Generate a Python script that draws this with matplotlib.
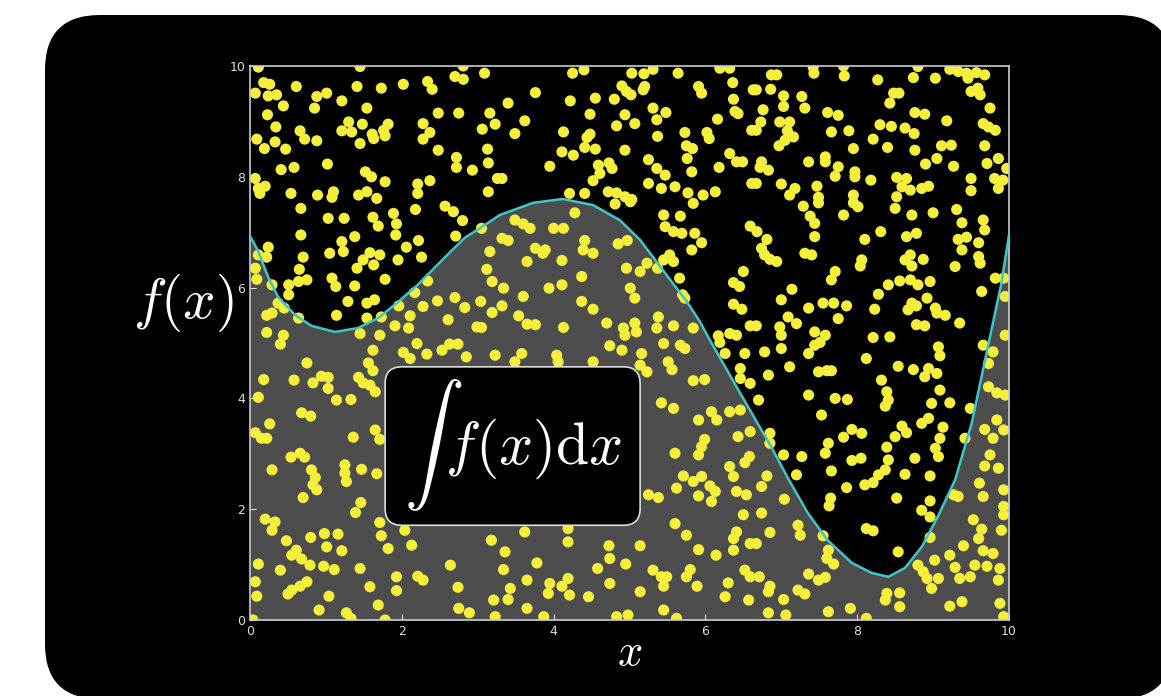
import numpy as np
import matplotlib
matplotlib.use("Agg")
import matplotlib.pyplot as plt
from matplotlib.patches import FancyBboxPatch
from matplotlib.transforms import IdentityTransform

# curve f(x)
curve_x = [0.0, 0.1, 0.24, 0.37, 0.59, 0.81, 1.12, 1.42, 1.69, 1.95, 2.21, 2.57, 2.83, 3.05,
           3.29, 3.73, 4.12, 4.52, 4.87, 5.14, 5.36, 5.57, 5.76, 5.93, 6.06, 6.36, 6.65, 6.87,
           7.10, 7.35, 7.61, 7.93, 8.19, 8.41, 8.63, 8.85, 9.06, 9.29, 9.51, 9.74, 9.90, 10.0]
curve_y = [6.93, 6.68, 6.19, 5.83, 5.51, 5.31, 5.20, 5.27, 5.45, 5.74, 6.05, 6.55, 6.90, 7.09,
           7.31, 7.53, 7.60, 7.49, 7.22, 6.86, 6.46, 6.08, 5.74, 5.38, 5.05, 4.33, 3.64, 3.12,
           2.53, 1.93, 1.44, 1.03, 0.85, 0.78, 0.94, 1.32, 1.86, 2.53, 3.56, 5.05, 6.08, 6.95]

# sample points, split by region of the plot (top row first)
dots_top_left = [
    (0.11, 9.98), (1.45, 9.99), (0.18, 9.70), (0.26, 9.67), (0.07, 9.51), (0.24, 9.46), (0.35, 9.48),
    (0.44, 9.28), (0.61, 9.63), (0.88, 9.45), (1.01, 9.51), (1.21, 9.37), (1.41, 9.63), (1.73, 9.60),
    (2.02, 9.67), (2.34, 9.72), (2.40, 9.58), (2.70, 9.81), (2.81, 9.76), (3.09, 9.87), (2.81, 10.0),
    (0.85, 9.24), (1.54, 9.24), (0.23, 9.12), (2.48, 9.15), (2.75, 9.15), (3.16, 9.15), (0.34, 8.90),
    (0.66, 8.83), (0.72, 8.68), (0.88, 8.65), (0.09, 8.68), (0.19, 8.51), (0.33, 8.63), (0.47, 8.50),
    (1.21, 8.83), (1.30, 8.99), (1.34, 8.81), (1.48, 8.95), (1.45, 8.60), (1.61, 8.77), (1.63, 8.69),
    (1.76, 8.84), (1.82, 8.95), (1.78, 8.74), (2.28, 8.96), (2.37, 8.80), (2.28, 8.68), (2.48, 8.48),
    (3.06, 8.86), (3.23, 8.95), (3.13, 8.50), (2.72, 8.35), (2.72, 8.17), (2.93, 8.12), (3.14, 8.25),
    (3.26, 7.97), (0.41, 8.13), (0.58, 8.17), (1.02, 8.23), (1.52, 8.09), (1.60, 8.00), (1.78, 7.91),
    (0.07, 7.97), (0.11, 7.79), (0.20, 7.83), (0.13, 7.70), (0.54, 7.70), (0.89, 7.67), (1.10, 7.73),
    (1.08, 7.63), (1.43, 7.67), (1.54, 7.73), (1.67, 7.61), (2.21, 7.87), (2.37, 7.93), (2.21, 7.70),
    (3.14, 7.73),
]
dots_top_mid = [
    (4.25, 9.87), (4.40, 9.93), (5.03, 9.87), (5.19, 9.86), (5.31, 9.94), (5.64, 9.87), (6.19, 9.96),
    (6.32, 9.96), (3.76, 9.52), (3.40, 9.33), (4.22, 9.37), (4.55, 9.42), (4.80, 9.40), (4.90, 9.64),
    (4.96, 9.54), (5.02, 9.48), (5.18, 9.57), (5.20, 9.63), (5.91, 9.63), (5.95, 9.51), (6.36, 9.70),
    (6.37, 9.40), (6.63, 9.57), (4.48, 9.13), (4.94, 9.12), (5.31, 9.24), (5.36, 9.03), (5.48, 9.16),
    (6.39, 9.18), (6.43, 9.14), (6.16, 9.04), (3.62, 9.01), (3.49, 8.78), (4.13, 8.81), (4.83, 8.92),
    (5.07, 8.96), (4.48, 8.77), (4.44, 8.71), (5.37, 8.73), (5.73, 8.80), (6.02, 8.80), (6.05, 8.69),
    (6.61, 8.84), (4.41, 8.53), (4.55, 8.50), (4.11, 8.45), (4.26, 8.39), (4.94, 8.48), (5.75, 8.56),
    (5.83, 8.51), (5.25, 8.31), (5.76, 8.33), (6.32, 8.42), (6.41, 8.27), (6.49, 8.27), (3.95, 8.19),
    (4.59, 8.21), (4.73, 8.25), (4.61, 8.06), (4.77, 8.15), (5.36, 8.15), (5.47, 8.03), (5.82, 8.09),
    (6.18, 8.17), (3.32, 7.97), (4.52, 7.93), (5.25, 7.88), (5.42, 7.79), (5.60, 7.82), (4.21, 7.70),
    (4.41, 7.70), (4.72, 7.73), (4.83, 7.71), (4.94, 7.64), (5.03, 7.59), (5.77, 7.71), (5.97, 7.67),
    (6.13, 7.73), (6.61, 7.88),
]
dots_top_right = [
    (7.42, 9.98), (7.43, 9.87), (7.82, 10.0), (7.83, 9.82), (8.80, 9.99), (8.74, 9.79), (9.03, 9.78),
    (9.22, 9.94), (9.33, 9.90), (9.44, 9.87), (9.57, 9.88), (9.68, 9.84), (9.46, 9.78), (6.87, 9.84),
    (6.94, 9.84), (8.27, 9.75), (6.67, 9.57), (6.86, 9.58), (7.03, 9.46), (7.27, 9.45), (8.48, 9.51),
    (8.55, 9.51), (8.43, 9.33), (9.50, 9.54), (9.59, 9.60), (9.62, 9.48), (6.76, 9.21), (7.03, 9.27),
    (7.31, 9.24), (7.61, 9.16), (7.75, 9.11), (8.76, 9.16), (8.89, 9.13), (9.75, 9.24), (6.73, 8.99),
    (6.98, 8.99), (7.11, 8.99), (6.67, 8.84), (7.08, 8.83), (7.16, 8.72), (9.18, 9.01), (9.66, 8.96),
    (9.73, 8.90), (9.82, 8.84), (7.66, 8.81), (7.89, 8.83), (8.30, 8.94), (8.45, 8.91), (8.63, 8.88),
    (8.75, 8.78), (8.21, 8.68), (7.05, 8.66), (6.97, 8.56), (7.95, 8.51), (8.40, 8.53), (8.76, 8.48),
    (9.11, 8.56), (9.24, 8.57), (9.68, 8.56), (6.74, 8.27), (6.83, 8.12), (6.72, 8.17), (7.36, 8.27),
    (7.58, 8.36), (7.58, 8.27), (7.75, 8.18), (7.71, 8.01), (7.97, 8.09), (7.97, 8.00), (8.18, 7.94),
    (8.90, 8.23), (9.05, 8.33), (9.27, 8.19), (9.71, 8.24), (9.86, 8.33), (9.97, 8.15), (6.67, 7.88),
    (7.00, 7.87), (7.18, 7.79), (7.11, 7.67), (7.47, 7.83), (7.49, 7.63), (7.95, 7.67), (8.52, 7.99),
    (8.65, 7.97), (8.59, 7.82), (8.70, 7.76), (8.85, 7.79), (8.94, 7.83), (8.52, 7.64), (9.50, 7.97),
    (9.50, 7.75), (9.81, 7.97), (9.92, 7.94), (9.86, 7.79),
]
dots_upper_left = [
    (0.67, 7.43), (1.03, 7.25), (1.24, 7.25), (1.62, 7.27), (1.69, 7.11), (1.89, 7.34), (1.93, 7.15),
    (2.18, 7.41), (2.57, 7.47), (2.68, 7.37), (2.80, 7.21), (0.67, 6.95), (1.38, 6.92), (1.21, 6.83),
    (1.23, 6.65), (1.92, 6.95), (2.22, 6.85), (2.06, 6.73), (2.71, 6.93), (3.05, 7.07), (0.24, 6.73),
    (0.11, 6.59), (0.22, 6.55), (1.05, 6.62), (1.58, 6.63), (1.71, 6.59), (1.49, 6.50), (0.70, 6.55),
    (1.95, 6.50), (2.26, 6.55), (3.16, 6.65), (0.07, 6.35), (0.65, 6.33), (1.41, 6.35), (1.63, 6.41),
    (3.12, 6.33), (0.09, 6.15), (0.51, 6.05), (0.64, 6.11), (0.75, 6.14), (1.08, 6.17), (1.13, 6.02),
    (1.38, 6.03), (1.78, 6.15), (2.34, 6.12), (3.19, 6.11), (0.29, 6.05), (0.51, 5.87), (2.17, 5.91),
    (1.29, 5.75), (1.54, 5.72), (1.64, 5.78), (2.47, 5.76), (2.70, 5.82), (3.04, 5.75), (2.83, 5.64),
    (0.37, 5.72), (0.45, 5.63), (0.22, 5.50), (0.29, 5.54), (0.64, 5.45), (1.14, 5.50), (1.54, 5.45),
    (1.73, 5.47), (1.96, 5.67), (2.11, 5.49), (2.28, 5.66), (2.61, 5.42), (3.19, 5.55), (1.91, 5.31),
    (2.09, 5.27), (1.45, 5.17), (1.71, 5.14), (0.22, 5.19), (0.44, 5.14), (2.99, 5.29), (3.05, 5.28),
]
dots_upper_mid = [
    (4.28, 7.35), (4.81, 7.51), (5.01, 7.55), (5.45, 7.31), (5.67, 7.29), (5.84, 7.52), (5.47, 7.10),
    (5.58, 7.01), (5.69, 6.98), (5.86, 6.98), (5.95, 6.81), (5.82, 6.68), (6.59, 7.11), (3.49, 7.22),
    (3.60, 7.15), (3.69, 7.07), (4.00, 7.07), (4.13, 7.07), (3.40, 6.85), (3.32, 6.89), (3.76, 6.71),
    (3.89, 6.68), (3.86, 6.62), (4.41, 6.85), (4.39, 6.68), (4.52, 6.62), (4.85, 6.79), (4.97, 6.85),
    (3.65, 6.47), (4.11, 6.49), (4.96, 6.35), (5.14, 6.29), (5.23, 6.44), (5.37, 6.35), (5.45, 6.50),
    (5.53, 6.59), (5.58, 6.47), (4.37, 6.20), (5.66, 6.17), (6.50, 6.29), (6.37, 6.09), (6.45, 6.02),
    (3.34, 5.99), (3.94, 5.99), (4.11, 6.05), (5.01, 5.99), (5.07, 5.81), (3.60, 5.84), (5.70, 5.87),
    (5.73, 5.81), (3.32, 5.67), (4.37, 5.75), (4.52, 5.61), (6.37, 5.70), (6.48, 5.61), (3.54, 5.49),
    (3.65, 5.34), (3.76, 5.33), (4.13, 5.28), (4.70, 5.36), (4.92, 5.27), (4.94, 5.14), (5.07, 5.36),
    (5.09, 5.20), (5.38, 5.47), (5.36, 5.27), (5.58, 5.31), (5.84, 5.27), (6.59, 5.31), (6.17, 5.13),
    (6.32, 5.17), (6.41, 5.14),
]
dots_upper_right = [
    (7.29, 7.47), (7.49, 7.53), (7.95, 7.53), (8.01, 7.46), (8.50, 7.43), (7.38, 7.29), (7.44, 7.16),
    (7.82, 7.31), (8.72, 7.31), (9.00, 7.35), (9.31, 7.41), (9.38, 7.17), (9.66, 7.22), (9.68, 7.04),
    (6.68, 7.01), (6.81, 6.87), (7.44, 6.92), (8.31, 7.01), (8.10, 6.87), (8.65, 6.92), (8.78, 6.98),
    (9.33, 6.87), (9.44, 6.91), (9.60, 6.81), (6.74, 6.71), (6.78, 6.59), (6.85, 6.51), (6.94, 6.47),
    (7.31, 6.62), (7.40, 6.59), (9.38, 6.68), (8.70, 6.59), (8.63, 6.50), (8.72, 6.39), (8.87, 6.51),
    (8.06, 6.50), (8.04, 6.39), (9.60, 6.56), (9.62, 6.44), (9.29, 6.38), (7.71, 6.29), (7.66, 6.14),
    (9.82, 6.17), (9.93, 6.17), (8.41, 6.05), (8.56, 6.12), (8.70, 6.14), (8.80, 6.05), (8.96, 6.11),
    (7.14, 5.97), (8.28, 5.88), (9.64, 5.93), (9.95, 5.84), (7.00, 5.78), (7.36, 5.63), (7.55, 5.72),
    (7.69, 5.72), (7.86, 5.67), (8.23, 5.61), (8.72, 5.72), (8.78, 5.67), (8.67, 5.60), (8.92, 5.81),
    (9.03, 5.63), (9.05, 5.54), (9.16, 5.50), (7.09, 5.47), (7.20, 5.35), (6.98, 5.29), (7.00, 5.14),
    (7.75, 5.44), (7.44, 5.20), (7.58, 5.14), (8.78, 5.33), (8.89, 5.31), (9.35, 5.36), (8.21, 5.10),
    (8.43, 5.11), (6.67, 5.31), (9.95, 5.14),
]
dots_lower_left = [
    (0.40, 4.98), (1.62, 4.87), (1.56, 4.64), (1.62, 4.50), (2.02, 4.83), (2.11, 4.72), (2.20, 4.99),
    (2.33, 4.80), (2.53, 4.87), (2.63, 4.98), (2.74, 4.98), (2.85, 4.75), (3.23, 4.78), (0.75, 4.64),
    (0.18, 4.34), (0.58, 4.33), (0.83, 4.28), (0.94, 4.40), (1.03, 4.38), (1.03, 4.18), (1.43, 4.38),
    (1.49, 4.28), (1.58, 4.24), (1.65, 4.12), (0.11, 4.02), (1.14, 3.97), (1.33, 3.98), (0.68, 3.74),
    (0.80, 3.68), (0.26, 3.54), (0.07, 3.38), (0.15, 3.28), (0.22, 3.28), (1.65, 3.43), (1.71, 3.26),
    (1.36, 3.30), (0.54, 2.94), (0.66, 3.01), (0.72, 2.94), (0.29, 2.71), (0.81, 2.71), (0.86, 2.57),
    (1.25, 2.80), (1.25, 2.65), (1.47, 2.72), (1.67, 2.64),
]
dots_lower_mid = [
    (3.58, 4.81), (3.49, 4.66), (4.04, 4.78), (4.06, 4.66), (4.52, 4.66), (4.74, 4.95), (4.90, 4.87),
    (5.16, 4.81), (5.14, 4.60), (5.23, 4.48), (5.45, 4.99), (5.67, 4.96), (5.73, 4.90), (5.51, 4.66),
    (5.56, 4.52), (5.84, 4.32), (5.99, 4.34), (6.19, 5.01), (6.26, 4.81), (6.52, 4.81), (6.46, 4.54),
    (6.46, 4.36), (6.59, 4.27), (5.42, 3.92), (5.58, 3.82), (5.91, 3.61), (6.08, 3.76), (6.15, 3.61),
    (6.32, 3.76), (6.46, 3.79), (5.99, 3.26), (5.95, 3.13), (5.91, 2.98), (5.60, 3.01), (6.43, 3.31),
    (6.59, 3.40), (6.32, 2.77), (6.52, 2.84), (6.58, 2.95), (5.71, 2.60), (5.95, 2.59), (6.37, 2.59),
]
dots_lower_right = [
    (6.78, 4.84), (7.00, 4.90), (7.36, 4.81), (7.44, 4.96), (7.51, 5.01), (8.12, 4.72), (9.07, 4.93),
    (9.09, 4.77), (9.66, 4.96), (9.79, 4.84), (9.73, 4.63), (7.11, 4.57), (7.49, 4.48), (7.60, 4.50),
    (7.66, 4.50), (6.83, 4.42), (8.54, 4.58), (8.74, 4.52), (8.94, 4.54), (8.89, 4.39), (9.05, 4.45),
    (8.32, 4.33), (8.39, 4.12), (8.41, 3.97), (8.37, 3.86), (9.09, 4.15), (9.73, 4.21), (9.84, 4.10),
    (9.95, 4.06), (6.70, 3.97), (7.36, 4.06), (7.71, 4.00), (7.87, 3.98), (8.98, 3.91), (9.22, 3.92),
    (9.49, 3.82), (7.53, 3.70), (8.85, 3.55), (8.94, 3.64), (8.59, 3.50), (8.65, 3.38), (9.13, 3.48),
    (9.84, 3.61), (9.68, 3.44), (9.93, 3.43), (6.85, 3.37), (6.85, 3.19), (7.82, 3.30), (7.93, 3.44),
    (8.06, 3.37), (8.50, 3.31), (9.09, 3.28), (9.42, 3.28), (9.79, 3.28), (7.62, 3.19), (7.58, 3.01),
    (8.39, 3.12), (9.03, 3.10), (9.07, 2.95), (7.03, 2.98), (7.27, 2.95), (7.93, 2.88), (8.05, 2.92),
    (8.41, 2.89), (8.76, 2.92), (9.75, 2.98), (6.81, 2.60), (7.20, 2.62), (7.66, 2.69), (8.28, 2.62),
    (8.37, 2.71), (8.63, 2.63), (8.96, 2.60), (9.68, 2.78), (9.86, 2.74),
]
dots_bottom_left = [
    (0.83, 2.44), (0.88, 2.35), (1.27, 2.50), (0.70, 2.21), (1.46, 2.12), (1.39, 1.94), (0.20, 1.82),
    (0.33, 1.77), (0.29, 1.62), (1.71, 1.76), (1.73, 1.52), (2.04, 1.62), (0.48, 1.43), (0.80, 1.49),
    (0.98, 1.56), (1.16, 1.55), (1.01, 1.32), (1.21, 1.25), (1.82, 1.29), (2.13, 1.35), (3.18, 1.44),
    (0.61, 1.26), (0.55, 1.17), (0.68, 1.10), (0.79, 0.99), (0.97, 0.97), (1.11, 0.91), (0.11, 1.01),
    (0.40, 0.90), (1.45, 0.93), (2.64, 0.99), (0.07, 0.69), (0.09, 0.43), (0.75, 0.69), (0.66, 0.61),
    (0.55, 0.54), (0.50, 0.47), (1.04, 0.43), (1.58, 0.60), (1.93, 0.78), (1.93, 0.53), (2.21, 0.79),
    (2.28, 0.72), (2.74, 0.59), (3.21, 0.36), (1.69, 0.27), (0.91, 0.18), (1.27, 0.13), (1.33, 0.03),
    (1.78, 0.00), (2.75, 0.21), (2.89, 0.13), (3.23, 0.06), (0.04, 0.00),
]
dots_bottom_mid = [
    (5.25, 2.26), (5.38, 2.21), (5.62, 2.38), (5.84, 2.50), (5.91, 2.24), (6.06, 2.42), (6.13, 2.32),
    (6.08, 2.14), (6.41, 2.32), (6.54, 2.26), (6.50, 1.90), (5.60, 1.74), (3.62, 1.59), (4.19, 1.65),
    (4.19, 1.41), (5.75, 1.53), (6.41, 1.59), (6.37, 1.47), (6.59, 1.38), (3.36, 1.23), (4.73, 1.34),
    (5.14, 1.34), (5.91, 1.27), (6.14, 1.17), (6.37, 1.26), (3.78, 1.03), (4.74, 1.11), (4.95, 1.01),
    (3.34, 0.91), (4.58, 0.93), (5.31, 0.90), (5.42, 0.78), (5.49, 0.78), (5.80, 0.91), (5.75, 0.78),
    (6.52, 0.90), (6.59, 0.78), (3.65, 0.72), (3.95, 0.66), (4.19, 0.75), (4.11, 0.61), (3.93, 0.48),
    (4.21, 0.45), (3.43, 0.57), (3.40, 0.37), (4.46, 0.42), (4.74, 0.66), (5.14, 0.51), (5.45, 0.61),
    (5.89, 0.61), (6.30, 0.67), (6.26, 0.42), (6.57, 0.36), (3.65, 0.21), (3.87, 0.06), (4.83, 0.06),
    (4.98, 0.09), (5.45, 0.18), (5.62, 0.03),
]
dots_bottom_right = [
    (6.74, 2.41), (7.04, 2.18), (6.74, 1.93), (6.85, 1.58), (7.22, 1.71), (7.25, 1.53), (7.55, 1.52),
    (7.86, 2.39), (8.10, 2.44), (8.21, 2.48), (7.65, 2.20), (7.63, 2.06), (8.52, 2.20), (8.96, 2.15),
    (8.85, 1.98), (8.96, 1.86), (8.12, 1.65), (8.21, 1.61), (8.54, 1.23), (8.96, 1.49), (9.27, 2.26),
    (9.33, 2.23), (9.61, 2.47), (9.93, 2.35), (9.66, 2.23), (9.93, 2.05), (9.93, 1.90), (9.90, 1.62),
    (9.53, 1.81), (9.64, 1.64), (9.60, 1.47), (7.62, 1.26), (7.60, 1.11), (7.69, 1.01), (9.40, 1.34),
    (9.66, 1.25), (9.79, 1.20), (9.22, 1.17), (9.02, 1.08), (8.80, 0.99), (8.87, 0.87), (8.92, 0.75),
    (9.07, 0.75), (9.29, 0.95), (9.35, 0.75), (9.49, 0.78), (9.55, 0.99), (9.71, 0.97), (9.88, 0.93),
    (9.86, 0.72), (8.98, 0.57), (6.71, 0.78), (6.85, 0.61), (6.83, 0.51), (7.36, 0.83), (7.49, 0.72),
    (7.58, 0.77), (7.22, 0.54), (7.31, 0.47), (7.03, 0.37), (8.39, 0.48), (8.37, 0.36), (8.56, 0.49),
    (8.56, 0.24), (7.91, 0.21), (7.62, 0.15), (6.83, 0.13), (7.06, 0.09), (8.12, 0.03), (9.22, 0.25),
    (9.38, 0.33), (9.88, 0.30), (9.93, 0.06), (6.67, 1.38),
]

x_ticks = [0, 2, 4, 6, 8, 10]
y_ticks = [0, 2, 4, 6, 8, 10]

all_dots = np.array(dots_top_left + dots_top_mid + dots_top_right +
                    dots_upper_left + dots_upper_mid + dots_upper_right +
                    dots_lower_left + dots_lower_mid + dots_lower_right +
                    dots_bottom_left + dots_bottom_mid + dots_bottom_right)

plt.rcParams['mathtext.fontset'] = 'cm'

fig = plt.figure(figsize=(11.61, 6.96), dpi=100)
fig.patch.set_facecolor('white')

# black rounded "video frame" behind the axes (pixel coords, origin bottom-left)
frame = FancyBboxPatch((45, -3), 1128, 684,
                       boxstyle="round,pad=0,rounding_size=55",
                       transform=IdentityTransform(), facecolor='black',
                       edgecolor='none', zorder=-10)
fig.patches.append(frame)

ax = fig.add_axes([250 / 1161, 76 / 696, 759 / 1161, 554 / 696])
ax.set_facecolor('black')
ax.set_zorder(5)

ax.fill_between(curve_x, curve_y, 0, color='#4d4d4d', zorder=1, linewidth=0)
ax.scatter(all_dots[:, 0], all_dots[:, 1], s=64, color='#f4ef3a', edgecolors='none',
           zorder=2, clip_on=True)
ax.plot(curve_x, curve_y, color='#3ec6c8', lw=1.8, zorder=3)

ax.set_xlim(0, 10)
ax.set_ylim(0, 10)
ax.set_xticks(x_ticks)
ax.set_yticks(y_ticks)
ax.tick_params(direction='in', colors='#dddddd', labelsize=9, length=4, width=0.8)
for sp in ax.spines.values():
    sp.set_color('#cccccc')
    sp.set_linewidth(1.2)

ax.set_xlabel(r'$x$', fontsize=32, color='white', labelpad=-5)
ax.set_ylabel(r'$f(x)$', fontsize=41, color='white', rotation=0, ha='center', va='center')
ax.yaxis.set_label_coords(-0.088, 0.572)

# integral box
box = FancyBboxPatch((1.78, 1.71), 5.14 - 1.78, 4.57 - 1.71,
                     boxstyle="round,pad=0,rounding_size=0.22", mutation_aspect=75.9 / 55.4,
                     facecolor='black', edgecolor='#dddddd', linewidth=1.2, zorder=5)
ax.add_patch(box)
ax.text(3.47, 3.16, r'$\int\, f(x)\mathrm{d}x$', fontsize=43, color='white',
        ha='center', va='center', zorder=6)

fig.savefig('out.png', dpi=100, facecolor=fig.get_facecolor())
